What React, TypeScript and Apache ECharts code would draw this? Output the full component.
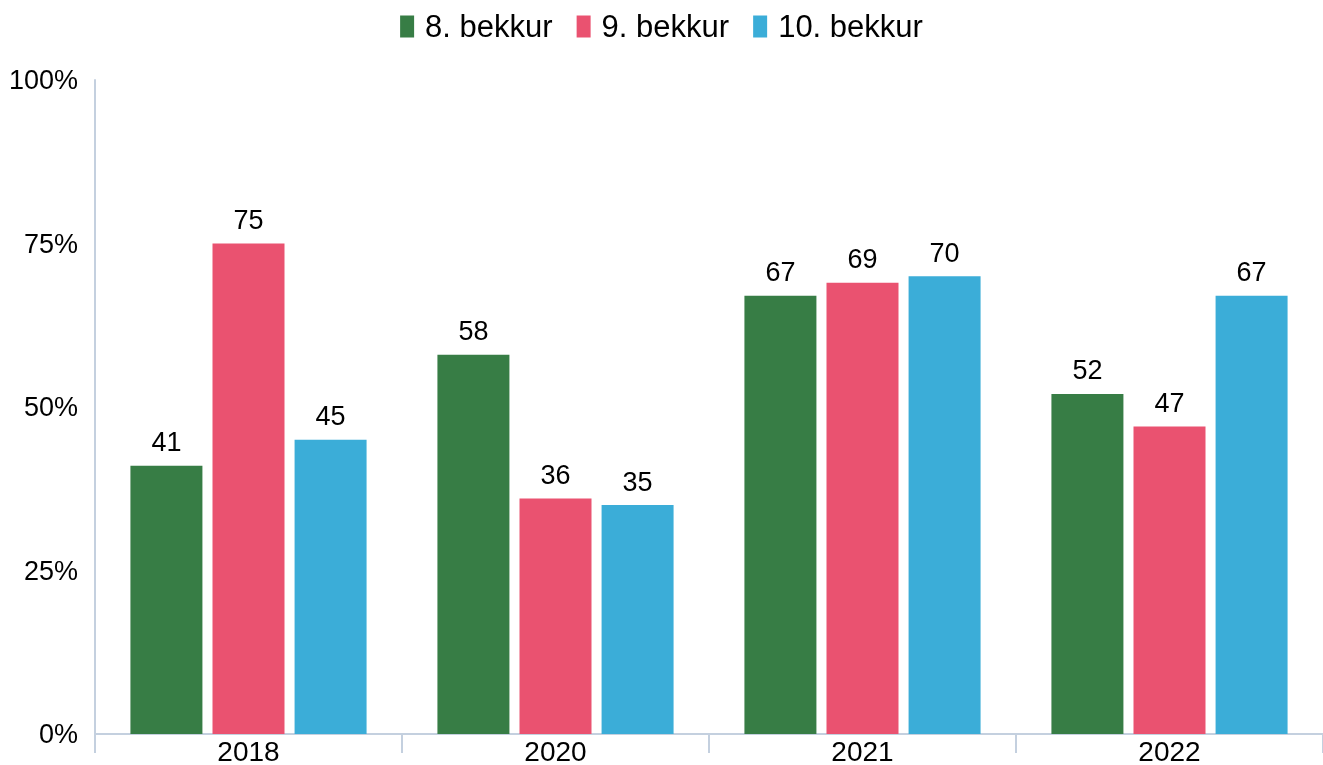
import React, { useEffect, useRef } from "react";
import * as echarts from "echarts";

const categories = ["2018", "2020", "2021", "2022"];
const seriesNames = ["8. bekkur", "9. bekkur", "10. bekkur"];
const grade8 = [41, 58, 67, 52];
const grade9 = [75, 36, 69, 47];
const grade10 = [45, 35, 70, 67];
const colors = ["#377d45", "#ea5270", "#3badd8"];
const yTicks = { min: 0, max: 100, interval: 25 };

export default function App() {
  const ref = useRef<HTMLDivElement>(null);
  useEffect(() => {
    document.body.style.margin = "0";
    const chart = echarts.init(ref.current!, null, { renderer: "svg" });
    const font = "Liberation Sans, Arial, Helvetica, sans-serif";
    const axisColor = "#c4d0df";
    const data = [grade8, grade9, grade10];
    chart.setOption({
      animation: false,
      textStyle: { fontFamily: font, color: "#000" },
      legend: {
        top: 6,
        left: "center",
        itemWidth: 14,
        itemHeight: 22,
        itemGap: 24,
        icon: "rect",
        textStyle: { fontSize: 31, color: "#000", fontFamily: font, padding: [0, 0, 0, 6] },
        data: seriesNames,
      },
      grid: { left: 95, right: 0, top: 80, bottom: 31, containLabel: false },
      xAxis: {
        type: "category",
        data: categories,
        axisLine: { show: true, lineStyle: { color: axisColor, width: 2 } },
        axisTick: { show: true, length: 19, interval: 0, lineStyle: { color: axisColor, width: 2 } },
        axisLabel: { fontSize: 28, color: "#000", margin: 3, fontFamily: font },
        splitLine: { show: false },
      },
      yAxis: {
        type: "value",
        min: yTicks.min,
        max: yTicks.max,
        interval: yTicks.interval,
        axisLine: { show: true, lineStyle: { color: axisColor, width: 2 } },
        axisTick: { show: false },
        splitLine: { show: false },
        axisLabel: { fontSize: 27, color: "#000", margin: 17, formatter: "{value}%", fontFamily: font },
      },
      series: seriesNames.map((name, i) => ({
        name,
        type: "bar",
        data: data[i],
        barWidth: 72,
        barGap: "14%",
        itemStyle: { color: colors[i] },
        label: {
          show: true,
          position: "top",
          distance: 10,
          fontSize: 27,
          color: "#000",
          fontFamily: font,
        },
      })),
    });
    return () => chart.dispose();
  }, []);
  return (
    <div
      ref={ref}
      style={{ position: "fixed", left: 0, top: 0, width: 1323, height: 765 }}
    />
  );
}
